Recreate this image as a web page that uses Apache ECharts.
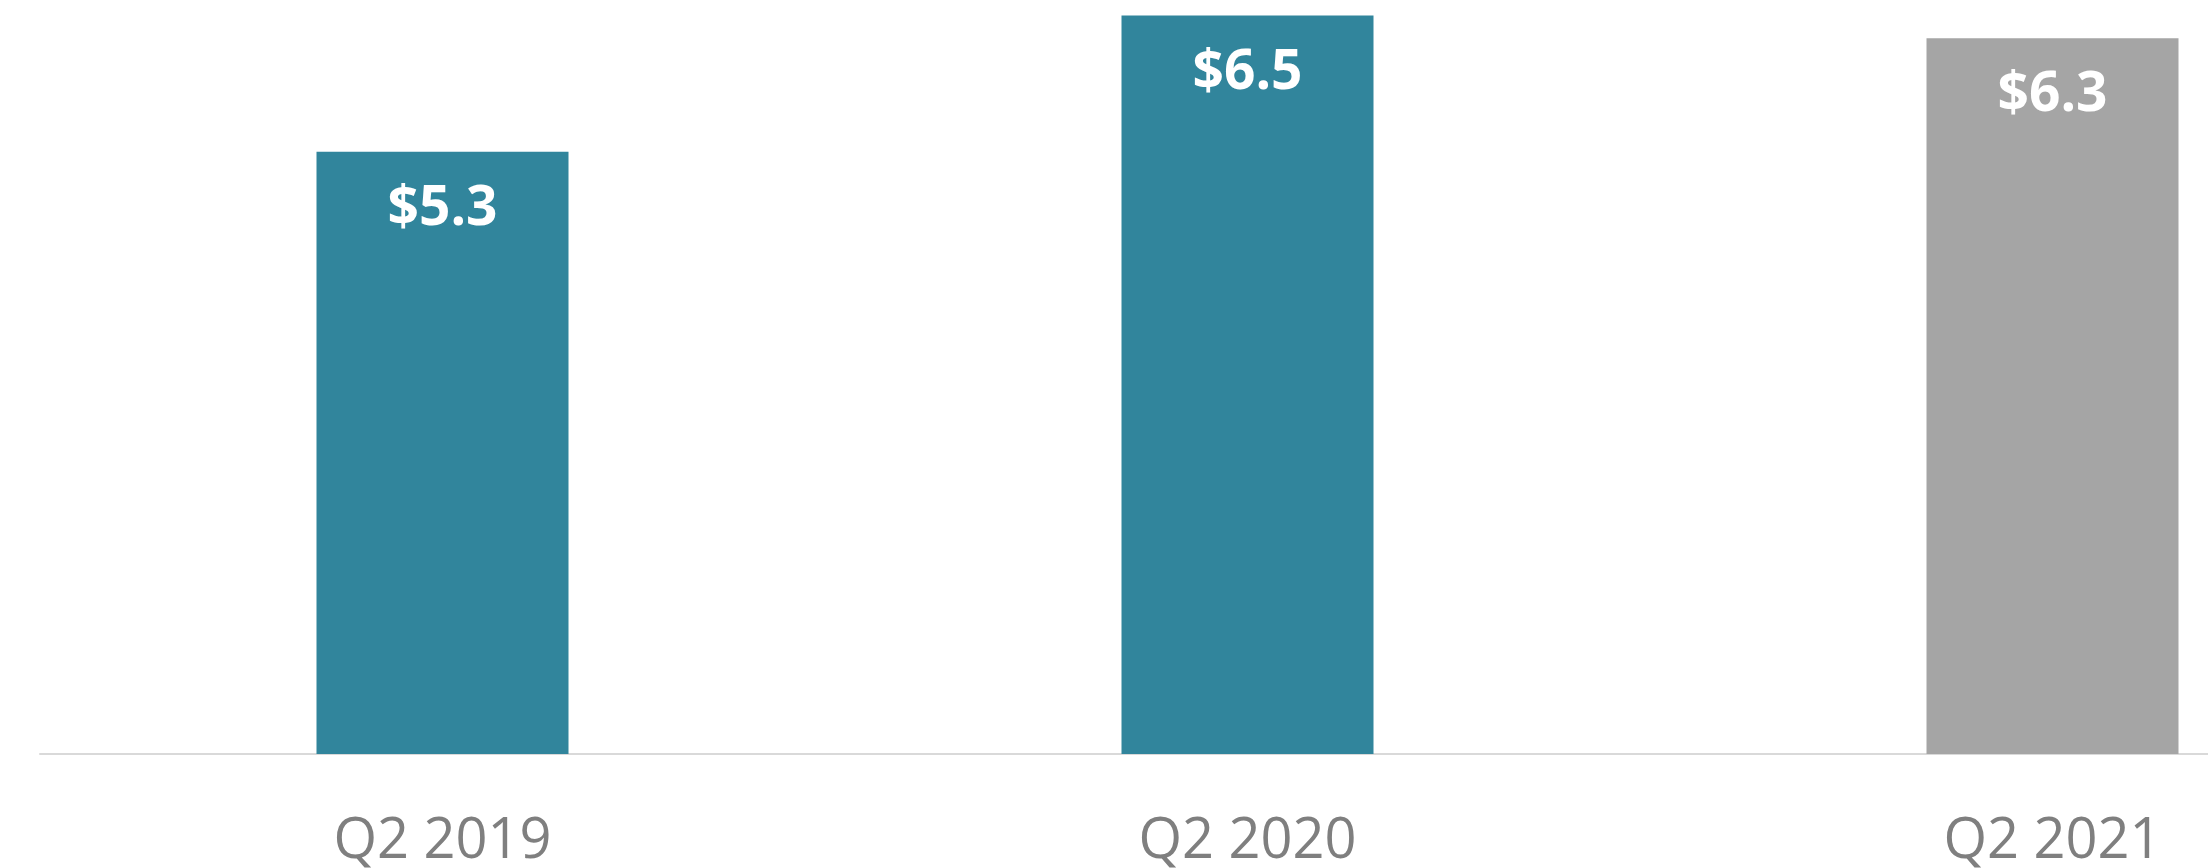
<!DOCTYPE html>
<html>
<head>
<meta charset="utf-8">
<script src="https://cdn.jsdelivr.net/npm/echarts@6/dist/echarts.min.js"></script>
<style>
html,body{margin:0;padding:0;background:#fff;}
#chart{width:2208px;height:868px;}
</style>
</head>
<body>
<div id="chart"></div>
<script>
const categories = ['Q2 2019', 'Q2 2020', 'Q2 2021'];
const values = [5.3, 6.5, 6.3];

const barColors = ['#31859C', '#31859C', '#A5A5A5'];

const chart = echarts.init(document.getElementById('chart'), null, {renderer: 'canvas'});
chart.setOption({
  animation: false,
  backgroundColor: '#ffffff',
  grid: { left: 40, right: -247, top: 15.5, bottom: 114, containLabel: false, outerBoundsMode: 'none' },
  xAxis: {
    type: 'category',
    data: categories,
    axisLine: { show: true, lineStyle: { color: '#D9D9D9', width: 2 } },
    axisTick: { show: false },
    axisLabel: {
      color: '#7F7F7F',
      fontFamily: 'Open Sans',
      fontSize: 56,
      margin: 60,
      interval: 0,
      hideOverlap: false
    }
  },
  yAxis: {
    type: 'value',
    min: 0,
    max: 6.5,
    show: false,
    splitLine: { show: false }
  },
  series: [{
    type: 'bar',
    barWidth: 252,
    data: values.map((v, i) => ({ value: v, itemStyle: { color: barColors[i] } })),
    label: {
      show: true,
      position: 'insideTop',
      distance: 30,
      color: '#ffffff',
      fontFamily: 'Open Sans',
      fontWeight: 'bold',
      fontSize: 55,
      formatter: p => '$' + p.value.toFixed(1)
    }
  }]
});
</script>
</body>
</html>
